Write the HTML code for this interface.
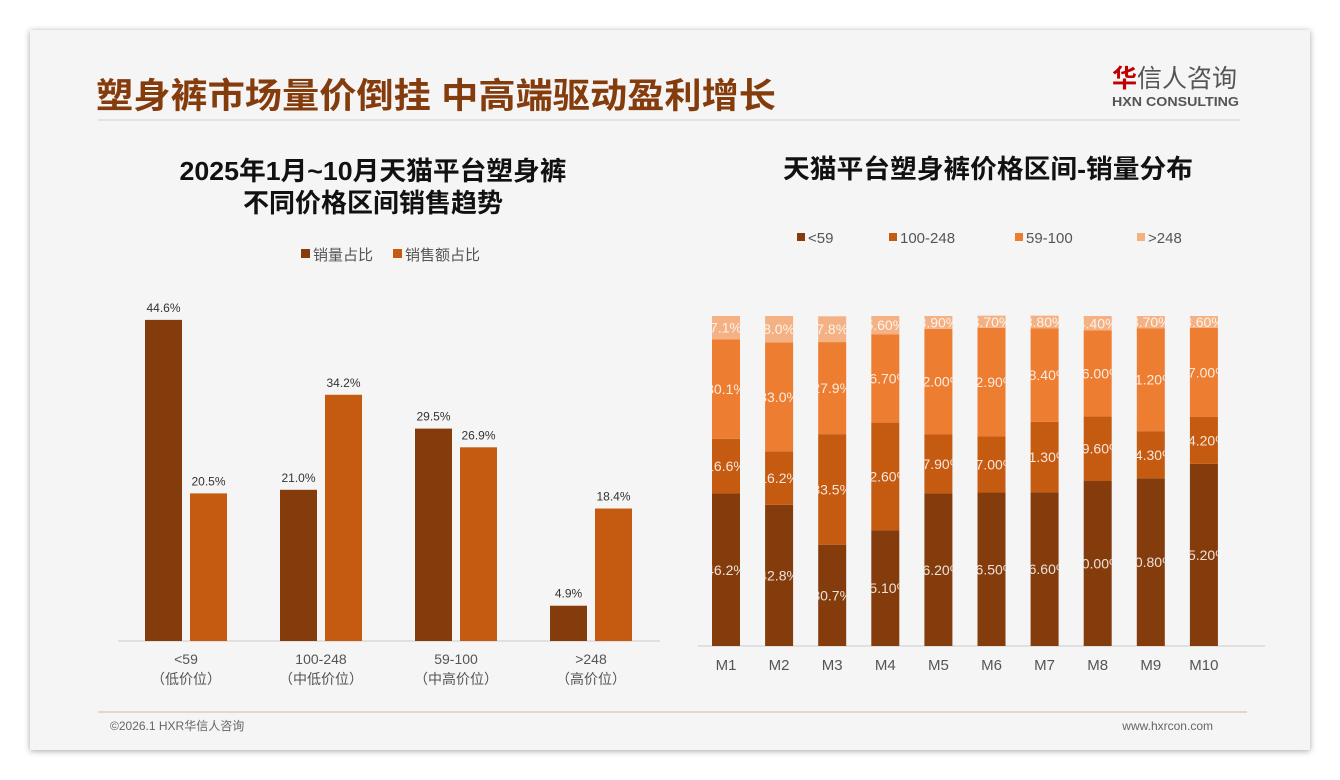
<!DOCTYPE html>
<html><head><meta charset="utf-8">
<style>
body{margin:0;width:1340px;height:780px;background:#fff;overflow:hidden;font-family:"Liberation Sans","Noto Sans CJK SC",sans-serif;}
#card{position:absolute;left:30px;top:30px;width:1280px;height:720px;background:#f5f5f5;box-shadow:0 1px 6px rgba(0,0,0,0.35);}
svg{position:absolute;left:0;top:0}
</style></head><body>
<div id="card"></div>
<svg id="s" width="1340" height="780">
<text x="96" y="108" font-size="35" font-weight="bold" fill="#843c0c" textLength="680" lengthAdjust="spacingAndGlyphs">塑身裤市场量价倒挂 中高端驱动盈利增长</text>
<line x1="98" y1="120" x2="1240" y2="120" stroke="#dcdcdc" stroke-width="1.5"/>
<text x="1112" y="87" font-size="25" fill="#555"><tspan fill="#c00000" font-weight="bold">华</tspan>信人咨询</text>
<text x="1112" y="106" font-size="13" font-weight="bold" fill="#555" textLength="127" lengthAdjust="spacingAndGlyphs">HXN CONSULTING</text>
<text x="373" y="180" font-size="26" font-weight="bold" text-anchor="middle" fill="#111" textLength="387" lengthAdjust="spacingAndGlyphs">2025年1月~10月天猫平台塑身裤</text>
<text x="373" y="212" font-size="26" font-weight="bold" text-anchor="middle" fill="#111">不同价格区间销售趋势</text>
<text x="988" y="178" font-size="26" font-weight="bold" text-anchor="middle" fill="#111" textLength="410" lengthAdjust="spacingAndGlyphs">天猫平台塑身裤价格区间-销量分布</text>
<line x1="98" y1="712" x2="1247" y2="712" stroke="#d7b79a" stroke-width="1"/>
<text x="110" y="730" font-size="12" fill="#666">©2026.1 HXR华信人咨询</text>
<text x="1213" y="730" font-size="12" fill="#666" text-anchor="end">www.hxrcon.com</text>
<g id="L"></g><g id="R"></g>
</svg>
<script>
const leftCats=["<59","100-248","59-100",">248"];
const leftSub=["（低价位）","（中低价位）","（中高价位）","（高价位）"];
const volShare=[44.6,21.0,29.5,4.9];
const amtShare=[20.5,34.2,26.9,18.4];
const months=["M1","M2","M3","M4","M5","M6","M7","M8","M9","M10"];
const sLow=[46.2,42.8,30.7,35.1,46.2,46.5,46.6,50.0,50.8,55.2];
const sMid=[16.6,16.2,33.5,32.6,17.9,17.0,21.3,19.6,14.3,14.2];
const sUpper=[30.1,33.0,27.9,26.7,32.0,32.9,28.4,26.0,31.2,27.0];
const sHigh=[7.1,8.0,7.8,5.6,3.9,3.7,3.8,4.4,3.7,3.6];
const lblLow=["46.2%","42.8%","30.7%","35.10%","46.20%","46.50%","46.60%","50.00%","50.80%","55.20%"];
const lblMid=["16.6%","16.2%","33.5%","32.60%","17.90%","17.00%","21.30%","19.60%","14.30%","14.20%"];
const lblUpper=["30.1%","33.0%","27.9%","26.70%","32.00%","32.90%","28.40%","26.00%","31.20%","27.00%"];
const lblHigh=["7.1%","8.0%","7.8%","5.60%","3.90%","3.70%","3.80%","4.40%","3.70%","3.60%"];
const NS="http://www.w3.org/2000/svg";
function mk(t,a,p){const e=document.createElementNS(NS,t);for(const k in a)e.setAttribute(k,a[k]);p.appendChild(e);return e;}
const L=document.getElementById('L');
const lx=i=>186+i*135, ly=v=>641-v*7.2;
mk('line',{x1:118,y1:641,x2:660,y2:641,stroke:'#ccc'},L);
let e;
e=mk('rect',{x:301,y:249,width:9,height:9,fill:'#843c0c'},L);

e=mk('text',{x:313,y:260,'font-size':15,fill:'#555'},L);e.textContent='销量占比';

e=mk('rect',{x:393,y:249,width:9,height:9,fill:'#c55a11'},L);

e=mk('text',{x:405,y:260,'font-size':15,fill:'#555'},L);e.textContent='销售额占比';

leftCats.forEach((c,i)=>{
 const cx=lx(i);
 e=mk('rect',{x:cx-41,y:ly(volShare[i]),width:37,height:641-ly(volShare[i]),fill:'#843c0c'},L);
 
 e=mk('rect',{x:cx+4,y:ly(amtShare[i]),width:37,height:641-ly(amtShare[i]),fill:'#c55a11'},L);
 
 e=mk('text',{x:cx-22.5,y:ly(volShare[i])-8,'font-size':12,'text-anchor':'middle',fill:'#333'},L);e.textContent=volShare[i].toFixed(1)+'%';
 
 e=mk('text',{x:cx+22.5,y:ly(amtShare[i])-8,'font-size':12,'text-anchor':'middle',fill:'#333'},L);e.textContent=amtShare[i].toFixed(1)+'%';
 
 e=mk('text',{x:cx,y:664,'font-size':14,'text-anchor':'middle',fill:'#555'},L);e.textContent=c;
 
 e=mk('text',{x:cx,y:684,'font-size':14,'text-anchor':'middle',fill:'#555'},L);e.textContent=leftSub[i];
 
});
const R=document.getElementById('R');
const rx=i=>726+i*53.1, ry=v=>646-v*3.3;
mk('line',{x1:698,y1:646,x2:1265,y2:646,stroke:'#ccc'},R);
const series=[[sLow,lblLow,'#843c0c','low'],[sMid,lblMid,'#c55a11','mid'],[sUpper,lblUpper,'#ed7d31','upper'],[sHigh,lblHigh,'#f4b183','high']];
const legNames=['<59','100-248','59-100','>248'];const legX=[797,889,1015,1137];
series.forEach((s,k)=>{
 e=mk('rect',{x:legX[k],y:233,width:8,height:8,fill:s[2]},R);
 
 e=mk('text',{x:legX[k]+11,y:243,'font-size':15,fill:'#555'},R);e.textContent=legNames[k];
 
});
const defs=mk('defs',{},R);
months.forEach((m,i)=>{
 const cx=rx(i);
 const cp=mk('clipPath',{id:'cp'+i},defs);mk('rect',{x:cx-14,y:300,width:28,height:360},cp);
 let acc=0;
 series.forEach((s,k)=>{
  const v=s[0][i];const y0=ry(acc),y1=ry(acc+v);
  e=mk('rect',{x:cx-14,y:y1,width:28,height:y0-y1,fill:s[2]},R);
  
  e=mk('text',{x:cx,y:(y0+y1)/2+5,'font-size':14,'text-anchor':'middle',fill:'#fff','fill-opacity':0.85,'clip-path':'url(#cp'+i+')'},R);
  e.textContent=s[1][i];
  
  acc+=v;
 });
 e=mk('text',{x:cx,y:670,'font-size':15,'text-anchor':'middle',fill:'#555'},R);e.textContent=m;
 
});
</script>
</body></html>
